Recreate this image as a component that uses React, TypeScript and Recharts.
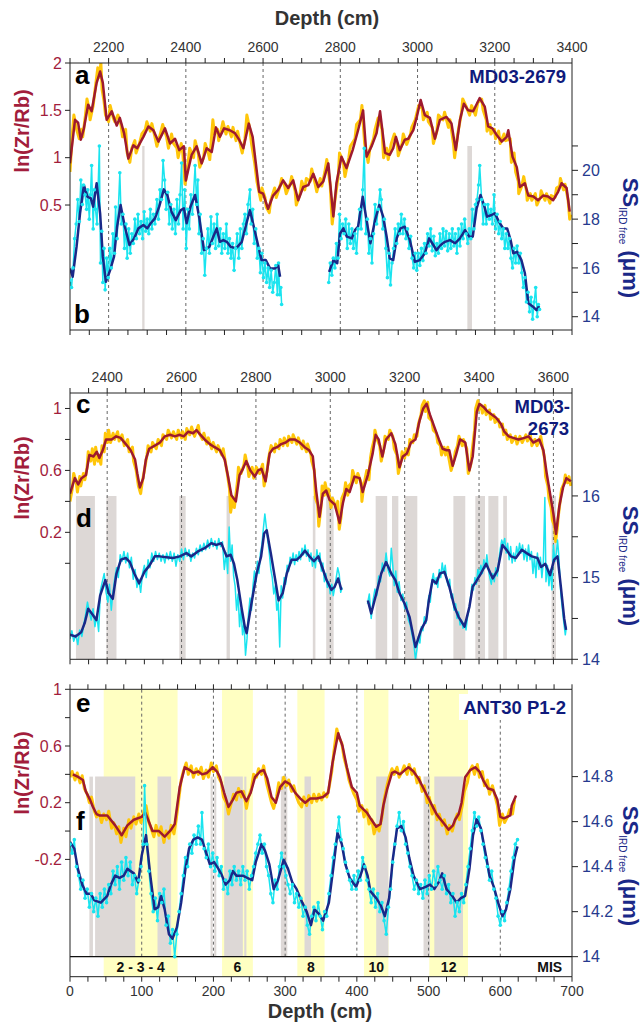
import React from 'react';
import { ComposedChart, Line, XAxis, YAxis, ReferenceArea, ReferenceLine } from 'recharts';

const FONT = '"Liberation Sans", Arial, Helvetica, sans-serif';
const RED = '#9e1a2e';
const YEL = '#ffc60a';
const CYAN = '#1ae4ef';
const NAVY = '#1a2888';
const GREY = '#ddd8d6';
const LYEL = '#ffffc2';
const TXT = '#333333';
const RLAB = '#a21d3c';
const BLAB = '#263a8e';
const AX = '#222222';

// ---------- ticks ----------
const abTicks = [2100,2150,2200,2250,2300,2350,2400,2450,2500,2550,2600,2650,2700,2750,2800,2850,2900,2950,3000,3050,3100,3150,3200,3250,3300,3350,3400];
const abLabels = [2200,2400,2600,2800,3000,3200,3400];
const cdTicks = [2300,2350,2400,2450,2500,2550,2600,2650,2700,2750,2800,2850,2900,2950,3000,3050,3100,3150,3200,3250,3300,3350,3400,3450,3500,3550,3600,3650];
const cdLabels = [2400,2600,2800,3000,3200,3400,3600];
const efTicks = [0,25,50,75,100,125,150,175,200,225,250,275,300,325,350,375,400,425,450,475,500,525,550,575,600,625,650,675,700];
const efLabels = [0,100,200,300,400,500,600,700];

const aLeftTicks = [0.5,1,1.5,2];
const bRightTicks = [14,15,16,17,18,19,20,21];
const bRightLabels = [14,16,18,20];
const cLeftTicks = [0,0.2,0.4,0.6,0.8,1];
const cLeftLabels = [1,0.6,0.2];
const dRightTicks = [14,14.5,15,15.5,16];
const dRightLabels = [14,15,16];
const eLeftTicks = [-0.2,0,0.2,0.4,0.6,0.8,1];
const eLeftLabels = [1,0.6,0.2,-0.2];
const fRightTicks = [14,14.2,14.4,14.6,14.8];

const abDotted = [2200,2400,2600,2800,3000,3200];
const cdDotted = [2400,2600,2800,3000,3200,3400,3600];
const efDotted = [100,200,300,400,500,600];

const abGrey = [[2287,2293],[3129,3141]];
const cdGrey = [[2316,2367],[2398,2425],[2594,2611],[2721,2730],[2953,2960],[2989,3009],[3122,3153],[3166,3183],[3200,3234],[3331,3363],[3390,3416],[3425,3452],[3465,3475],[3595,3607]];
const efGrey = [[27,32],[35,91],[122,141],[196,199],[201,204],[215,241],[243,246],[294,303],[327,336],[427,444],[493,502],[508,548]];
const misBands = [[47,150],[212,255],[317,355],[410,444],[501,555]];
const misNames = ['2 - 3 - 4','6','8','10','12'];

// ---------- Panel a: ln(Zr/Rb) MD03-2679 ----------
const aSmooth = [[2100,0.94],[2113,1.40],[2121,1.37],[2128,1.19],[2136,1.31],[2147,1.56],[2156,1.49],[2169,1.79],[2178,1.91],[2185,1.79],[2195,1.40],[2208,1.49],[2221,1.34],[2229,1.42],[2240,1.26],[2251,0.99],[2264,1.13],[2274,1.10],[2290,1.22],[2303,1.33],[2316,1.29],[2329,1.17],[2346,1.31],[2359,1.15],[2372,1.20],[2383,1.08],[2395,1.12],[2400,0.76],[2415,1.03],[2428,1.12],[2441,0.94],[2454,1.10],[2467,1.06],[2478,1.32],[2488,1.22],[2499,1.31],[2514,1.29],[2527,1.26],[2538,1.19],[2549,1.10],[2563,1.36],[2573,1.22],[2590,0.64],[2600,0.62],[2613,0.46],[2626,0.60],[2639,0.66],[2652,0.76],[2665,0.68],[2678,0.76],[2691,0.55],[2704,0.69],[2717,0.71],[2730,0.83],[2743,0.69],[2756,0.75],[2769,0.94],[2782,0.38],[2790,0.73],[2803,1.01],[2816,0.89],[2832,1.08],[2846,1.29],[2859,1.50],[2868,1.01],[2881,1.12],[2894,1.26],[2903,1.49],[2916,1.05],[2928,1.03],[2937,1.10],[2944,1.22],[2954,1.08],[2967,1.19],[2976,1.20],[2989,1.29],[2998,1.43],[3008,1.61],[3019,1.45],[3032,1.42],[3045,1.20],[3058,1.40],[3075,1.43],[3088,1.36],[3099,1.08],[3110,1.40],[3120,1.57],[3131,1.50],[3144,1.49],[3161,1.63],[3174,1.54],[3183,1.33],[3194,1.31],[3205,1.24],[3218,1.17],[3231,1.22],[3235,1.29],[3246,1.01],[3257,0.90],[3265,0.69],[3278,0.73],[3287,0.60],[3300,0.59],[3312,0.55],[3325,0.60],[3338,0.59],[3351,0.55],[3364,0.64],[3373,0.73],[3386,0.68],[3394,0.43]];
const aRaw = [[2100,0.85],[2106,1.25],[2110,1.45],[2117,1.30],[2124,1.20],[2130,1.30],[2133,1.22],[2140,1.45],[2144,1.62],[2150,1.50],[2152,1.40],[2160,1.55],[2165,1.72],[2172,1.95],[2176,1.85],[2180,2.0],[2183,1.72],[2188,1.60],[2192,1.45],[2200,1.38],[2204,1.55],[2212,1.42],[2216,1.38],[2224,1.45],[2232,1.35],[2236,1.22],[2244,1.30],[2248,1.05],[2255,0.95],[2260,1.10],[2268,1.18],[2271,1.05],[2280,1.15],[2286,1.25],[2295,1.30],[2299,1.38],[2308,1.28],[2312,1.36],[2320,1.22],[2325,1.12],[2334,1.25],[2340,1.35],[2350,1.22],[2355,1.10],[2363,1.25],[2368,1.15],[2377,1.10],[2380,1.00],[2388,1.15],[2392,1.05],[2398,0.72],[2404,0.88],[2410,1.10],[2420,1.00],[2424,1.18],[2432,1.05],[2436,0.90],[2446,1.00],[2450,1.15],[2458,1.05],[2462,0.98],[2470,1.40],[2474,1.25],[2482,1.30],[2485,1.18],[2492,1.30],[2496,1.38],[2504,1.25],[2509,1.33],[2518,1.22],[2522,1.32],[2530,1.18],[2534,1.28],[2542,1.12],[2546,1.05],[2553,1.20],[2558,1.45],[2566,1.30],[2570,1.15],[2578,0.95],[2584,0.75],[2594,0.55],[2597,0.68],[2605,0.58],[2608,0.48],[2616,0.42],[2620,0.55],[2630,0.68],[2634,0.58],[2644,0.70],[2648,0.78],[2656,0.70],[2660,0.62],[2670,0.72],[2674,0.80],[2683,0.65],[2686,0.50],[2696,0.62],[2700,0.75],[2708,0.66],[2712,0.78],[2722,0.75],[2726,0.88],[2735,0.72],[2739,0.64],[2748,0.78],[2752,0.70],[2760,0.85],[2765,0.98],[2774,0.70],[2779,0.30],[2786,0.55],[2795,0.82],[2798,1.05],[2808,0.95],[2812,0.80],[2822,1.00],[2826,1.12],[2838,1.20],[2842,1.35],[2852,1.40],[2856,1.55],[2863,1.15],[2872,0.95],[2876,1.08],[2886,1.20],[2890,1.30],[2898,1.42],[2908,1.30],[2912,1.00],[2920,1.10],[2924,0.98],[2932,1.15],[2940,1.25],[2948,1.12],[2950,1.02],[2960,1.15],[2963,1.25],[2972,1.14],[2982,1.25],[2985,1.32],[2994,1.40],[3003,1.55],[3012,1.52],[3015,1.40],[3025,1.48],[3028,1.38],[3038,1.32],[3041,1.15],[3050,1.28],[3054,1.45],[3066,1.40],[3070,1.48],[3080,1.32],[3084,1.40],[3093,1.15],[3096,1.00],[3104,1.25],[3114,1.48],[3117,1.62],[3125,1.55],[3135,1.45],[3140,1.55],[3150,1.45],[3156,1.58],[3166,1.62],[3170,1.50],[3178,1.40],[3180,1.28],[3188,1.35],[3190,1.25],[3199,1.30],[3202,1.20],[3210,1.28],[3214,1.15],[3224,1.25],[3228,1.18],[3240,1.20],[3243,0.95],[3250,1.05],[3254,0.85],[3261,0.75],[3262,0.62],[3270,0.70],[3275,0.80],[3282,0.65],[3284,0.55],[3292,0.62],[3296,0.55],[3305,0.62],[3309,0.50],[3318,0.58],[3320,0.65],[3330,0.55],[3334,0.62],[3343,0.52],[3346,0.60],[3356,0.58],[3360,0.68],[3368,0.70],[3370,0.78],[3378,0.66],[3382,0.72],[3390,0.55],[3394,0.35],[3397,0.40]];

// ---------- Panel b: SS MD03-2679 ----------
const bSmooth1 = [[2100,15.98],[2107,15.64],[2117,16.87],[2126,18.24],[2136,19.39],[2145,18.92],[2154,18.85],[2160,18.51],[2169,19.47],[2178,18.24],[2185,16.46],[2193,15.43],[2204,15.91],[2214,16.46],[2222,17.69],[2231,18.58],[2242,17.69],[2254,16.94],[2266,17.21],[2277,17.62],[2290,17.76],[2300,17.62],[2309,17.83],[2320,18.03],[2331,18.51],[2343,19.22],[2352,18.99],[2363,18.30],[2374,17.96],[2387,18.37],[2395,18.44],[2402,17.83],[2412,18.51],[2424,18.99],[2435,18.03],[2447,16.73],[2461,16.87],[2471,17.28],[2480,17.62],[2488,17.07],[2497,17.14],[2506,17.07],[2516,16.87],[2530,16.80],[2545,17.07],[2557,17.83],[2566,18.37],[2576,17.69],[2588,16.87],[2596,16.32],[2607,16.32],[2618,15.98],[2631,15.98],[2639,16.12],[2644,15.64]];
const bSmooth2 = [[2771,15.84],[2782,16.32],[2792,16.19],[2799,17.40],[2808,17.62],[2817,17.28],[2830,17.21],[2838,17.55],[2846,17.69],[2858,18.92],[2868,17.96],[2878,17.01],[2890,17.96],[2901,18.58],[2911,18.10],[2920,17.28],[2928,16.39],[2937,16.32],[2946,17.21],[2956,17.62],[2967,17.69],[2980,17.14],[2993,16.25],[3006,16.32],[3019,16.60],[3030,17.21],[3041,16.94],[3049,16.73],[3060,16.94],[3071,17.07],[3084,17.14],[3097,17.01],[3110,17.21],[3123,17.55],[3134,17.28],[3143,17.28],[3153,18.44],[3163,18.99],[3172,18.58],[3180,18.10],[3192,18.17],[3200,18.24],[3211,17.89],[3222,17.62],[3232,17.62],[3241,17.14],[3248,16.60],[3258,16.66],[3269,16.32],[3278,15.78],[3287,14.55],[3299,14.41],[3308,14.27],[3315,14.44]];
const bRaw1 = [[2100,15.5],[2104,15.2],[2108,16.0],[2112,17.2],[2116,17.8],[2120,18.8],[2124,17.9],[2128,19.6],[2132,18.6],[2135,19.4],[2139,19.0],[2143,18.4],[2146,19.2],[2150,18.0],[2153,19.0],[2156,20.2],[2160,17.6],[2163,19.2],[2166,18.4],[2170,17.8],[2176,21.0],[2179,16.2],[2182,17.5],[2185,15.4],[2188,16.8],[2191,15.1],[2195,16.4],[2199,15.6],[2203,16.8],[2207,16.0],[2211,17.4],[2215,16.6],[2218,18.5],[2222,17.2],[2229,19.9],[2233,17.8],[2237,18.2],[2241,16.8],[2245,17.8],[2248,16.4],[2252,17.6],[2256,16.6],[2260,17.4],[2264,17.0],[2268,18.0],[2272,17.2],[2276,18.2],[2280,17.4],[2284,17.9],[2288,17.2],[2292,18.3],[2296,17.5],[2300,18.0],[2304,17.4],[2308,18.4],[2312,17.6],[2316,18.2],[2320,17.8],[2325,18.8],[2329,18.0],[2333,19.2],[2337,18.8],[2341,20.4],[2345,19.6],[2349,18.4],[2353,19.1],[2357,17.8],[2361,18.6],[2365,17.6],[2369,18.4],[2373,17.4],[2377,18.8],[2381,17.8],[2385,19.0],[2389,20.3],[2393,17.6],[2397,19.2],[2401,16.8],[2405,18.4],[2409,17.6],[2413,19.0],[2417,18.2],[2424,20.2],[2428,18.6],[2431,19.6],[2434,17.4],[2437,18.2],[2441,16.6],[2445,17.2],[2449,15.7],[2453,16.8],[2457,17.6],[2461,16.6],[2465,18.1],[2469,17.0],[2473,17.8],[2477,16.8],[2481,18.2],[2485,16.9],[2489,17.6],[2493,16.6],[2497,17.4],[2501,16.8],[2505,17.8],[2509,16.6],[2513,17.2],[2517,16.4],[2521,17.0],[2525,15.9],[2529,16.8],[2533,17.4],[2537,16.4],[2541,17.6],[2545,16.8],[2549,17.8],[2553,18.2],[2557,17.4],[2561,18.6],[2566,19.2],[2569,17.8],[2573,18.4],[2577,17.0],[2581,17.6],[2585,16.4],[2589,16.8],[2593,15.8],[2597,16.6],[2601,15.6],[2605,16.2],[2609,15.4],[2613,16.0],[2617,15.2],[2621,15.9],[2625,15.0],[2629,15.4],[2633,16.1],[2637,14.9],[2640,16.2],[2643,14.9],[2646,15.2],[2648,14.5]];
const bRaw2 = [[2770,15.4],[2774,16.2],[2778,15.7],[2782,16.4],[2786,16.0],[2790,17.0],[2794,16.4],[2798,18.2],[2802,17.2],[2806,17.8],[2810,17.4],[2814,18.0],[2818,16.8],[2822,17.8],[2826,17.0],[2830,17.6],[2834,16.8],[2838,17.4],[2842,16.6],[2846,17.6],[2850,18.4],[2854,17.6],[2858,19.2],[2862,20.9],[2866,17.4],[2870,18.0],[2874,16.6],[2878,17.2],[2882,16.2],[2886,17.4],[2890,18.6],[2894,17.8],[2898,18.4],[2903,19.2],[2906,18.8],[2910,17.6],[2914,18.0],[2918,16.8],[2922,15.6],[2926,16.6],[2930,15.3],[2934,16.2],[2938,16.8],[2942,17.6],[2946,17.0],[2950,17.8],[2954,17.4],[2958,18.2],[2962,17.4],[2966,18.0],[2970,17.2],[2974,17.6],[2978,16.8],[2982,17.3],[2986,16.4],[2990,16.0],[2994,16.6],[2998,15.9],[3002,16.6],[3006,16.1],[3010,16.8],[3014,16.3],[3018,17.0],[3022,16.6],[3026,17.4],[3030,16.9],[3034,17.6],[3038,16.7],[3042,17.3],[3046,16.5],[3050,17.0],[3054,16.6],[3058,17.4],[3062,16.8],[3066,17.6],[3070,16.9],[3074,17.5],[3078,16.7],[3082,17.4],[3086,16.8],[3090,17.6],[3094,16.9],[3098,17.4],[3102,16.6],[3106,17.6],[3110,16.9],[3114,17.8],[3118,17.2],[3122,18.0],[3126,17.4],[3130,17.0],[3134,17.6],[3138,17.2],[3142,18.4],[3146,17.6],[3150,18.6],[3154,18.8],[3158,19.4],[3161,20.2],[3166,18.8],[3170,17.8],[3174,18.6],[3178,17.8],[3182,18.6],[3186,18.0],[3190,18.4],[3194,17.8],[3198,19.0],[3202,17.6],[3206,18.2],[3210,17.4],[3214,17.9],[3218,17.2],[3222,17.6],[3226,16.8],[3230,17.4],[3234,16.8],[3238,17.2],[3242,16.4],[3246,16.0],[3250,16.8],[3254,16.2],[3258,16.9],[3262,16.2],[3266,16.6],[3270,15.8],[3274,15.2],[3278,15.6],[3282,14.6],[3286,15.0],[3290,14.2],[3294,14.8],[3298,13.9],[3302,14.6],[3306,15.2],[3310,14.0],[3313,14.5],[3316,14.3]];

// ---------- Panel c: ln(Zr/Rb) MD03-2673 ----------
const cSmooth = [[2300,0.45],[2313,0.55],[2322,0.51],[2331,0.55],[2343,0.57],[2352,0.70],[2363,0.69],[2372,0.72],[2379,0.68],[2388,0.73],[2397,0.80],[2412,0.80],[2424,0.82],[2436,0.81],[2450,0.77],[2463,0.73],[2475,0.67],[2481,0.58],[2488,0.49],[2497,0.55],[2504,0.67],[2513,0.74],[2528,0.76],[2542,0.78],[2555,0.82],[2569,0.83],[2582,0.82],[2595,0.83],[2606,0.82],[2618,0.85],[2631,0.84],[2640,0.86],[2651,0.83],[2662,0.80],[2676,0.77],[2689,0.75],[2703,0.73],[2716,0.67],[2725,0.56],[2734,0.44],[2746,0.40],[2756,0.57],[2765,0.61],[2774,0.66],[2785,0.60],[2797,0.56],[2806,0.60],[2815,0.61],[2826,0.53],[2837,0.71],[2846,0.74],[2857,0.75],[2868,0.77],[2880,0.78],[2891,0.80],[2904,0.80],[2918,0.78],[2931,0.75],[2943,0.73],[2953,0.69],[2962,0.47],[2971,0.30],[2980,0.45],[2989,0.47],[2998,0.41],[3012,0.38],[3025,0.26],[3034,0.39],[3043,0.48],[3052,0.46],[3065,0.56],[3079,0.55],[3087,0.46],[3101,0.57],[3114,0.71],[3122,0.83],[3130,0.80],[3140,0.69],[3150,0.80],[3164,0.84],[3175,0.77],[3186,0.62],[3195,0.69],[3206,0.71],[3217,0.78],[3229,0.80],[3240,0.92],[3250,1.00],[3259,1.03],[3268,0.96],[3280,0.88],[3292,0.80],[3302,0.74],[3313,0.73],[3320,0.73],[3329,0.63],[3338,0.70],[3349,0.80],[3363,0.78],[3374,0.60],[3383,0.69],[3394,0.98],[3401,1.03],[3412,1.01],[3423,0.98],[3435,0.96],[3446,0.94],[3459,0.90],[3468,0.85],[3480,0.82],[3492,0.81],[3506,0.80],[3522,0.81],[3533,0.82],[3546,0.78],[3562,0.80],[3573,0.73],[3582,0.58],[3591,0.45],[3600,0.32],[3607,0.19],[3616,0.37],[3626,0.49],[3635,0.55],[3647,0.53]];
const cRaw = [[2300,0.40],[2306,0.48],[2310,0.58],[2317,0.52],[2320,0.46],[2326,0.56],[2329,0.50],[2336,0.58],[2340,0.54],[2346,0.62],[2349,0.72],[2356,0.66],[2360,0.74],[2366,0.64],[2369,0.75],[2375,0.66],[2377,0.70],[2383,0.64],[2386,0.76],[2392,0.72],[2395,0.84],[2401,0.78],[2404,0.86],[2409,0.78],[2416,0.84],[2420,0.80],[2428,0.85],[2432,0.79],[2440,0.83],[2446,0.76],[2455,0.80],[2459,0.72],[2468,0.75],[2471,0.66],[2478,0.60],[2484,0.50],[2490,0.45],[2494,0.52],[2500,0.60],[2507,0.70],[2510,0.76],[2518,0.72],[2522,0.78],[2532,0.74],[2537,0.80],[2546,0.76],[2550,0.83],[2560,0.80],[2564,0.86],[2573,0.81],[2578,0.85],[2587,0.80],[2591,0.86],[2600,0.81],[2603,0.85],[2610,0.80],[2614,0.87],[2622,0.83],[2627,0.88],[2635,0.82],[2645,0.89],[2648,0.84],[2656,0.80],[2660,0.84],[2668,0.77],[2672,0.81],[2681,0.74],[2685,0.78],[2694,0.72],[2698,0.76],[2708,0.70],[2712,0.74],[2720,0.62],[2723,0.58],[2729,0.48],[2732,0.33],[2738,0.42],[2742,0.36],[2750,0.52],[2753,0.62],[2760,0.58],[2768,0.64],[2771,0.70],[2778,0.62],[2781,0.56],[2790,0.62],[2794,0.55],[2801,0.62],[2810,0.58],[2818,0.64],[2822,0.50],[2830,0.60],[2834,0.68],[2841,0.76],[2850,0.72],[2853,0.77],[2862,0.74],[2865,0.80],[2873,0.76],[2876,0.81],[2885,0.76],[2888,0.82],[2897,0.78],[2900,0.83],[2910,0.77],[2914,0.81],[2924,0.74],[2927,0.79],[2936,0.72],[2939,0.77],[2948,0.70],[2950,0.66],[2957,0.60],[2960,0.42],[2966,0.38],[2969,0.24],[2975,0.36],[2978,0.50],[2984,0.44],[2986,0.52],[2993,0.44],[2995,0.48],[3002,0.36],[3006,0.42],[3017,0.35],[3020,0.40],[3024,0.22],[3029,0.30],[3031,0.42],[3038,0.46],[3041,0.52],[3047,0.44],[3050,0.50],[3057,0.52],[3060,0.60],[3070,0.52],[3074,0.58],[3083,0.52],[3085,0.40],[3090,0.50],[3094,0.55],[3098,0.60],[3104,0.54],[3108,0.68],[3112,0.74],[3118,0.80],[3120,0.86],[3126,0.80],[3133,0.76],[3137,0.66],[3144,0.74],[3147,0.82],[3156,0.80],[3160,0.86],[3168,0.82],[3172,0.74],[3179,0.70],[3183,0.58],[3190,0.66],[3193,0.72],[3200,0.68],[3204,0.74],[3210,0.70],[3214,0.80],[3222,0.78],[3226,0.83],[3233,0.82],[3237,0.90],[3244,0.96],[3247,1.02],[3253,1.05],[3256,0.98],[3262,1.04],[3265,0.94],[3273,0.92],[3277,0.86],[3285,0.84],[3289,0.78],[3296,0.76],[3299,0.70],[3306,0.75],[3310,0.70],[3316,0.75],[3318,0.69],[3325,0.60],[3332,0.66],[3336,0.72],[3342,0.76],[3346,0.82],[3355,0.76],[3358,0.80],[3367,0.74],[3371,0.58],[3378,0.64],[3381,0.72],[3388,0.86],[3391,1.00],[3397,1.05],[3399,0.99],[3406,1.02],[3409,0.97],[3416,1.02],[3419,0.96],[3428,0.99],[3431,0.93],[3440,0.96],[3443,0.91],[3452,0.93],[3456,0.88],[3463,0.90],[3466,0.83],[3472,0.86],[3476,0.80],[3484,0.83],[3488,0.78],[3498,0.82],[3502,0.77],[3510,0.82],[3516,0.78],[3526,0.83],[3530,0.79],[3538,0.83],[3542,0.76],[3550,0.80],[3556,0.76],[3566,0.82],[3570,0.76],[3576,0.68],[3579,0.56],[3585,0.50],[3588,0.42],[3594,0.36],[3597,0.28],[3603,0.24],[3606,0.14],[3610,0.22],[3613,0.30],[3619,0.42],[3622,0.48],[3629,0.52],[3632,0.57],[3638,0.52],[3642,0.56],[3647,0.50]];

// ---------- Panel d: SS MD03-2673 ----------
const dSmooth1 = [[2300,14.30],[2315,14.28],[2330,14.33],[2340,14.45],[2349,14.62],[2362,14.54],[2371,14.48],[2381,14.78],[2395,14.97],[2404,14.81],[2415,14.74],[2425,15.05],[2437,15.22],[2450,15.24],[2461,15.19],[2473,15.05],[2486,14.93],[2500,15.07],[2514,15.15],[2528,15.26],[2541,15.26],[2559,15.25],[2577,15.24],[2595,15.26],[2613,15.30],[2626,15.26],[2644,15.32],[2662,15.36],[2680,15.42],[2694,15.40],[2707,15.42],[2721,15.26],[2732,15.28],[2741,15.17],[2750,14.97],[2761,14.64],[2770,14.40],[2775,14.32],[2789,14.71],[2802,15.05],[2814,15.26],[2822,15.54],[2829,15.58],[2840,15.30],[2852,14.97],[2861,14.72],[2872,14.81],[2883,15.05],[2896,15.22],[2910,15.22],[2920,15.26],[2932,15.33],[2944,15.26],[2956,15.20],[2968,15.26],[2981,15.09],[2990,14.97],[3003,14.85],[3012,14.89],[3021,14.99],[3030,14.85]];
const dSmooth2 = [[3101,14.72],[3110,14.56],[3124,14.81],[3137,15.05],[3150,15.19],[3164,15.05],[3175,14.97],[3186,14.81],[3200,14.68],[3213,14.52],[3229,14.15],[3244,14.36],[3258,14.48],[3265,14.72],[3275,14.97],[3285,14.93],[3295,15.05],[3307,15.07],[3320,14.89],[3334,14.64],[3345,14.52],[3361,14.40],[3374,14.64],[3383,14.89],[3392,14.95],[3405,15.05],[3419,15.17],[3437,14.99],[3450,15.09],[3463,15.40],[3474,15.34],[3486,15.26],[3499,15.24],[3515,15.34],[3528,15.30],[3542,15.26],[3557,15.24],[3567,15.13],[3578,15.17],[3591,15.03],[3602,15.22],[3611,15.26],[3620,14.89],[3629,14.50],[3634,14.36]];
const dRaw1 = [[2300,14.25],[2305,14.35],[2310,14.22],[2316,14.30],[2321,14.18],[2326,14.36],[2332,14.28],[2337,14.42],[2342,14.55],[2347,14.70],[2352,14.58],[2357,14.48],[2362,14.62],[2367,14.40],[2372,14.55],[2377,14.34],[2382,14.85],[2387,14.95],[2392,15.05],[2397,14.82],[2402,14.70],[2406,14.92],[2411,14.60],[2415,14.80],[2420,14.98],[2425,15.12],[2430,15.00],[2435,15.28],[2440,15.20],[2445,15.32],[2450,15.18],[2455,15.30],[2460,15.12],[2465,15.25],[2470,14.98],[2475,15.10],[2480,14.88],[2485,14.98],[2490,14.82],[2495,15.05],[2500,15.15],[2505,15.00],[2510,15.22],[2515,15.12],[2520,15.30],[2525,15.20],[2530,15.32],[2535,15.22],[2540,15.30],[2545,15.20],[2550,15.28],[2555,15.18],[2560,15.30],[2565,15.22],[2570,15.32],[2575,15.20],[2580,15.30],[2585,15.14],[2590,15.28],[2595,15.20],[2600,15.35],[2605,15.22],[2610,15.36],[2615,15.26],[2620,15.34],[2625,15.20],[2630,15.30],[2635,15.24],[2640,15.36],[2645,15.28],[2650,15.40],[2655,15.32],[2660,15.42],[2665,15.34],[2670,15.46],[2675,15.36],[2680,15.48],[2685,15.38],[2690,15.45],[2695,15.35],[2700,15.48],[2705,15.38],[2710,15.44],[2715,15.10],[2720,15.30],[2724,15.05],[2728,15.62],[2732,15.20],[2736,15.40],[2740,15.02],[2744,14.90],[2748,14.60],[2752,14.80],[2756,14.40],[2760,14.62],[2764,14.30],[2768,14.45],[2772,14.05],[2776,14.25],[2780,14.55],[2784,14.75],[2788,14.60],[2792,14.90],[2796,15.08],[2800,14.95],[2804,15.20],[2808,15.05],[2812,15.30],[2816,15.40],[2820,15.60],[2824,15.78],[2828,15.62],[2832,15.45],[2836,15.30],[2840,15.10],[2844,15.00],[2848,14.80],[2852,14.90],[2856,14.60],[2860,14.70],[2864,14.15],[2868,14.90],[2872,14.75],[2876,15.00],[2880,14.92],[2884,15.15],[2888,15.08],[2892,15.25],[2896,15.18],[2900,15.30],[2904,15.16],[2908,15.28],[2912,15.20],[2916,15.32],[2920,15.22],[2924,15.36],[2928,15.28],[2932,15.40],[2936,15.26],[2940,15.34],[2944,15.20],[2948,15.30],[2952,15.14],[2956,15.26],[2960,15.12],[2964,15.34],[2968,15.20],[2972,15.30],[2976,15.08],[2980,15.18],[2984,14.95],[2988,15.05],[2992,14.88],[2996,14.95],[3000,14.80],[3004,14.92],[3008,14.78],[3012,14.88],[3016,15.00],[3020,15.12],[3024,15.04],[3028,14.82],[3032,14.88]];
const dRaw2 = [[3100,14.68],[3105,14.80],[3110,14.50],[3115,14.72],[3120,14.86],[3125,14.78],[3130,15.02],[3135,14.95],[3140,15.18],[3145,15.08],[3150,15.30],[3155,15.10],[3160,15.02],[3164,15.36],[3168,15.15],[3172,14.90],[3176,15.08],[3180,14.82],[3185,14.95],[3190,14.72],[3195,14.80],[3200,14.62],[3205,14.70],[3210,14.48],[3215,14.42],[3220,14.30],[3225,14.18],[3229,14.00],[3233,14.12],[3237,14.28],[3241,14.20],[3245,14.40],[3249,14.35],[3253,14.52],[3257,14.44],[3261,14.60],[3265,14.78],[3269,14.70],[3273,14.95],[3277,15.05],[3281,14.92],[3285,15.00],[3289,14.88],[3293,15.10],[3297,15.00],[3301,15.18],[3305,15.05],[3309,15.15],[3313,14.98],[3317,14.90],[3321,14.98],[3325,14.75],[3329,14.80],[3333,14.60],[3337,14.68],[3341,14.50],[3345,14.58],[3349,14.42],[3353,14.48],[3357,14.38],[3361,14.45],[3365,14.36],[3369,14.52],[3373,14.60],[3377,14.75],[3381,14.92],[3385,14.85],[3389,15.00],[3393,14.92],[3397,15.10],[3401,15.02],[3405,15.15],[3409,15.05],[3413,15.22],[3417,15.12],[3421,15.28],[3425,15.10],[3429,15.00],[3433,14.92],[3437,15.05],[3441,14.95],[3445,15.12],[3449,15.02],[3453,15.20],[3457,15.35],[3461,15.46],[3465,15.40],[3469,15.48],[3473,15.30],[3477,15.42],[3481,15.22],[3485,15.38],[3489,15.18],[3493,15.30],[3497,15.20],[3501,15.38],[3505,15.28],[3509,15.42],[3513,15.30],[3517,15.40],[3521,15.22],[3525,15.35],[3529,15.20],[3533,15.40],[3537,15.22],[3541,15.32],[3545,15.05],[3549,15.25],[3553,15.00],[3557,15.30],[3561,15.10],[3565,15.25],[3569,15.00],[3573,15.20],[3577,15.98],[3580,14.95],[3584,15.15],[3588,14.90],[3592,15.10],[3596,14.85],[3600,15.40],[3604,15.20],[3608,15.30],[3611,15.46],[3614,15.30],[3617,15.05],[3620,14.80],[3624,14.62],[3628,14.45],[3632,14.30],[3635,14.40]];

// ---------- Panel e: ln(Zr/Rb) ANT30 P1-2 ----------
const eSmooth = [[4,0.40],[12,0.38],[18,0.36],[22,0.28],[28,0.22],[32,0.17],[37,0.12],[41,0.11],[52,0.11],[63,0.04],[72,-0.03],[80,0.04],[89,0.08],[100,0.10],[105,0.13],[109,0.08],[115,0.00],[124,0.00],[132,-0.04],[141,0.01],[146,0.05],[153,0.31],[160,0.45],[167,0.43],[172,0.41],[179,0.42],[184,0.40],[191,0.41],[199,0.45],[205,0.42],[209,0.38],[215,0.27],[221,0.17],[227,0.22],[232,0.27],[239,0.28],[246,0.21],[252,0.27],[258,0.38],[265,0.42],[270,0.43],[275,0.37],[281,0.24],[287,0.20],[293,0.31],[300,0.35],[307,0.33],[314,0.27],[321,0.23],[328,0.20],[335,0.23],[344,0.23],[353,0.24],[360,0.27],[366,0.48],[374,0.69],[380,0.60],[386,0.45],[393,0.31],[400,0.27],[404,0.18],[410,0.15],[414,0.13],[419,0.09],[427,0.03],[433,0.05],[437,0.18],[442,0.29],[449,0.41],[453,0.42],[460,0.40],[467,0.43],[472,0.45],[479,0.42],[486,0.37],[493,0.30],[500,0.23],[507,0.16],[511,0.12],[514,0.10],[522,0.05],[528,0.01],[534,0.04],[537,0.08],[542,0.12],[546,0.20],[551,0.38],[558,0.43],[565,0.45],[571,0.42],[576,0.36],[583,0.30],[590,0.29],[596,0.22],[600,0.10],[605,0.09],[614,0.11],[616,0.18],[622,0.25]];
const eRaw = [[0,0.38],[3,0.42],[7,0.36],[10,0.41],[14,0.34],[17,0.39],[20,0.30],[24,0.26],[27,0.20],[30,0.24],[34,0.14],[37,0.10],[40,0.14],[44,0.06],[47,0.12],[51,0.08],[54,0.14],[58,0.02],[61,0.06],[65,-0.02],[68,0.03],[71,-0.08],[75,0.02],[78,-0.04],[82,0.08],[85,0.02],[89,0.10],[92,0.05],[96,0.12],[99,0.06],[103,0.14],[106,0.18],[110,0.06],[113,0.02],[117,-0.04],[120,0.04],[124,-0.03],[127,0.03],[131,-0.08],[134,0.00],[138,-0.05],[141,0.04],[145,-0.02],[148,0.08],[151,0.20],[155,0.36],[158,0.42],[162,0.48],[165,0.40],[169,0.46],[172,0.38],[176,0.44],[179,0.40],[183,0.45],[186,0.37],[190,0.43],[193,0.38],[197,0.48],[200,0.42],[204,0.46],[207,0.38],[211,0.34],[214,0.24],[218,0.20],[221,0.12],[225,0.20],[228,0.26],[232,0.22],[235,0.30],[239,0.24],[242,0.28],[246,0.16],[249,0.24],[253,0.30],[256,0.40],[260,0.38],[263,0.44],[267,0.40],[270,0.46],[274,0.34],[277,0.28],[281,0.20],[284,0.16],[288,0.24],[291,0.34],[295,0.30],[298,0.38],[302,0.32],[305,0.36],[309,0.28],[312,0.32],[316,0.24],[319,0.20],[323,0.17],[326,0.24],[330,0.18],[333,0.25],[337,0.20],[340,0.26],[344,0.21],[347,0.26],[351,0.22],[354,0.27],[358,0.24],[361,0.30],[365,0.42],[368,0.56],[372,0.72],[375,0.66],[379,0.62],[382,0.52],[386,0.44],[389,0.36],[393,0.30],[396,0.26],[400,0.22],[403,0.14],[407,0.18],[410,0.10],[414,0.15],[417,0.05],[421,0.08],[424,-0.02],[428,0.04],[431,0.00],[435,0.10],[438,0.22],[442,0.32],[445,0.38],[449,0.44],[452,0.40],[456,0.45],[459,0.38],[463,0.42],[466,0.46],[470,0.40],[473,0.47],[477,0.40],[480,0.44],[484,0.34],[487,0.38],[491,0.28],[494,0.32],[498,0.20],[501,0.24],[505,0.12],[508,0.18],[512,0.08],[515,0.12],[519,0.04],[522,0.08],[526,-0.02],[529,0.04],[533,0.00],[536,0.06],[540,0.12],[543,0.08],[547,0.18],[550,0.28],[554,0.34],[557,0.42],[561,0.46],[564,0.40],[568,0.47],[571,0.38],[575,0.42],[578,0.32],[582,0.36],[585,0.26],[589,0.32],[592,0.26],[596,0.18],[599,0.04],[603,0.12],[606,0.06],[610,0.10],[613,0.15],[617,0.12],[620,0.22]];

// ---------- Panel f: SS ANT30 P1-2 ----------
const fSmooth = [[0,14.51],[6,14.48],[11,14.39],[17,14.32],[23,14.28],[29,14.28],[34,14.25],[43,14.24],[52,14.27],[57,14.32],[63,14.36],[69,14.35],[75,14.36],[80,14.39],[89,14.37],[95,14.33],[100,14.45],[106,14.54],[112,14.36],[118,14.21],[123,14.22],[127,14.27],[132,14.21],[138,14.10],[143,14.08],[149,14.13],[155,14.24],[161,14.39],[166,14.48],[172,14.52],[178,14.53],[184,14.52],[189,14.47],[195,14.41],[201,14.42],[207,14.39],[212,14.36],[217,14.32],[223,14.34],[227,14.38],[232,14.36],[241,14.36],[247,14.35],[254,14.34],[259,14.42],[267,14.50],[272,14.47],[278,14.41],[284,14.30],[290,14.34],[298,14.43],[304,14.39],[310,14.33],[316,14.30],[324,14.24],[330,14.20],[336,14.14],[341,14.21],[347,14.19],[353,14.16],[361,14.24],[367,14.39],[373,14.55],[379,14.50],[384,14.41],[390,14.35],[399,14.31],[405,14.36],[410,14.41],[415,14.36],[419,14.29],[427,14.26],[433,14.23],[439,14.18],[445,14.26],[450,14.43],[456,14.57],[462,14.58],[468,14.53],[473,14.44],[479,14.36],[488,14.30],[496,14.31],[502,14.32],[508,14.30],[514,14.33],[519,14.37],[525,14.30],[533,14.27],[539,14.24],[545,14.26],[551,14.27],[557,14.39],[562,14.54],[567,14.61],[573,14.57],[580,14.45],[585,14.36],[591,14.31],[597,14.24],[603,14.18],[608,14.21],[614,14.30],[620,14.44],[624,14.49]];
const fRaw = [[0,14.50],[3,14.46],[6,14.52],[9,14.40],[12,14.36],[15,14.30],[18,14.34],[21,14.26],[24,14.30],[27,14.22],[30,14.28],[33,14.20],[36,14.26],[39,14.18],[42,14.28],[45,14.22],[48,14.30],[51,14.24],[54,14.32],[57,14.28],[60,14.38],[63,14.32],[66,14.40],[69,14.30],[72,14.42],[75,14.34],[78,14.44],[81,14.36],[84,14.42],[87,14.32],[90,14.36],[93,14.28],[96,14.34],[99,14.40],[102,14.50],[104,14.76],[107,14.50],[110,14.38],[113,14.28],[116,14.20],[119,14.26],[122,14.16],[125,14.28],[128,14.24],[131,14.30],[134,14.14],[137,14.18],[140,14.06],[143,14.12],[146,14.00],[149,14.10],[152,14.20],[155,14.28],[158,14.36],[161,14.44],[164,14.40],[167,14.50],[170,14.46],[173,14.54],[176,14.50],[179,14.58],[182,14.50],[184,14.64],[187,14.48],[190,14.44],[193,14.50],[196,14.40],[199,14.46],[202,14.38],[205,14.44],[208,14.36],[211,14.40],[214,14.30],[217,14.34],[220,14.28],[223,14.38],[226,14.32],[229,14.40],[232,14.34],[235,14.38],[238,14.32],[241,14.40],[244,14.34],[247,14.38],[250,14.30],[253,14.36],[256,14.40],[259,14.46],[262,14.50],[265,14.54],[268,14.46],[271,14.50],[274,14.40],[277,14.36],[280,14.28],[283,14.24],[286,14.34],[289,14.30],[292,14.40],[295,14.46],[298,14.40],[301,14.36],[304,14.32],[307,14.28],[310,14.32],[313,14.24],[316,14.28],[319,14.22],[322,14.26],[325,14.18],[328,14.22],[331,14.14],[334,14.10],[337,14.18],[340,14.22],[343,14.16],[346,14.24],[349,14.18],[352,14.12],[355,14.20],[358,14.18],[361,14.28],[364,14.36],[367,14.44],[370,14.50],[373,14.56],[375,14.62],[378,14.52],[381,14.48],[384,14.42],[387,14.38],[390,14.34],[393,14.30],[396,14.36],[399,14.30],[402,14.38],[405,14.34],[408,14.44],[411,14.40],[414,14.34],[417,14.30],[420,14.24],[423,14.30],[426,14.22],[429,14.28],[432,14.20],[435,14.24],[438,14.16],[441,14.10],[444,14.22],[447,14.30],[450,14.42],[453,14.50],[456,14.58],[459,14.64],[462,14.56],[465,14.60],[468,14.50],[471,14.46],[474,14.40],[477,14.36],[480,14.30],[483,14.34],[486,14.28],[489,14.32],[492,14.26],[495,14.34],[498,14.28],[501,14.36],[504,14.30],[507,14.38],[510,14.32],[513,14.40],[516,14.34],[519,14.30],[522,14.36],[525,14.28],[528,14.32],[531,14.24],[534,14.28],[537,14.18],[540,14.24],[543,14.20],[546,14.28],[549,14.24],[552,14.32],[555,14.40],[558,14.48],[561,14.56],[564,14.64],[567,14.58],[570,14.62],[573,14.56],[576,14.50],[579,14.44],[582,14.40],[585,14.34],[588,14.38],[591,14.30],[594,14.26],[597,14.18],[600,14.14],[603,14.20],[606,14.16],[609,14.24],[612,14.30],[615,14.38],[618,14.44],[621,14.50],[624,14.52]];

// ---------- helpers ----------
const pts = (a: number[][]) => a.map(([d, v]) => ({ d, v }));
const near = (list: number[], v: number) => list.some((x) => Math.abs(x - v) < 1e-6);

const mkLine = (key: string, data: number[][], color: string, width: number, yId: string, dots = false, xId = 't') => (
  <Line
    key={key}
    xAxisId={xId}
    yAxisId={yId}
    data={pts(data)}
    dataKey="v"
    type="linear"
    stroke={color}
    strokeWidth={width}
    strokeLinejoin="round"
    dot={dots ? { r: 1.8, fill: color, stroke: 'none' } : false}
    activeDot={false}
    isAnimationActive={false}
  />
);

// invisible helper line so that the tick-only axis gets registered
const ghost = (key: string, data: number[][], xId: string) => (
  <Line key={key} xAxisId={xId} yAxisId="L" data={pts(data)} dataKey="v" stroke="none" strokeWidth={0}
    dot={false} activeDot={false} isAnimationActive={false} legendType="none" />
);

const greyAreas = (list: number[][], y1: number, y2: number, pre: string) =>
  list.map(([a, b], i) => (
    <ReferenceArea key={pre + i} xAxisId="t" yAxisId="R" x1={a} x2={b} y1={y1} y2={y2} fill={GREY} fillOpacity={1} stroke="none" />
  ));

const dottedLines = (list: number[], pre: string) =>
  list.map((x, i) => (
    <ReferenceLine key={pre + i} xAxisId="t" yAxisId="L" x={x} stroke="#666" strokeWidth={1} strokeDasharray="3 3" />
  ));

function PanelAB() {
  return (
    <div style={{ position: 'absolute', left: 0, top: 0 }}>
      <ComposedChart width={644} height={345} margin={{ top: 33, right: 32, bottom: 5, left: 30 }}>
        <XAxis xAxisId="t" orientation="top" type="number" dataKey="d" domain={[2100, 3400]} ticks={abTicks} interval={0}
          tickFormatter={(v) => (near(abLabels, v) ? String(v) : '')} height={30} tickSize={5} tickMargin={6}
          stroke={AX} tick={{ fill: TXT, fontSize: 14, fontFamily: FONT }} allowDataOverflow />
        <XAxis xAxisId="b" orientation="bottom" type="number" dataKey="d" domain={[2100, 3400]} ticks={abTicks} interval={0}
          tickFormatter={() => ''} height={10} tickSize={5} stroke={AX} allowDataOverflow />
        <YAxis yAxisId="L" orientation="left" type="number" domain={[-0.82, 2]} ticks={aLeftTicks} interval={0} width={40}
          tickSize={5} tickMargin={3} stroke={AX} tick={{ fill: RLAB, fontSize: 16, fontFamily: FONT }} allowDataOverflow />
        <YAxis yAxisId="R" orientation="right" type="number" domain={[13.455, 24.4]} ticks={bRightTicks} interval={0} width={40}
          tickFormatter={(v) => (near(bRightLabels, v) ? String(v) : '')} tickSize={6} tickMargin={4} stroke={AX}
          tick={{ fill: BLAB, fontSize: 16, fontFamily: FONT }} allowDataOverflow />
        {greyAreas(abGrey, 13.455, 21, 'ag')}
        {dottedLines(abDotted, 'ad')}
        {ghost('ag0', aSmooth, 'b')}
        {mkLine('araw', aRaw, YEL, 3, 'L')}
        {mkLine('asm', aSmooth, RED, 2.5, 'L')}
        {mkLine('braw1', bRaw1, CYAN, 1.5, 'R', true)}
        {mkLine('braw2', bRaw2, CYAN, 1.5, 'R', true)}
        {mkLine('bsm1', bSmooth1, NAVY, 2.5, 'R')}
        {mkLine('bsm2', bSmooth2, NAVY, 2.5, 'R')}
      </ComposedChart>
    </div>
  );
}

function PanelCD() {
  return (
    <div style={{ position: 'absolute', left: 0, top: 350 }}>
      <ComposedChart width={644} height={320} margin={{ top: 13, right: 32, bottom: 2.7, left: 30 }}>
        <XAxis xAxisId="t" orientation="top" type="number" dataKey="d" domain={[2300, 3650]} ticks={cdTicks} interval={0}
          tickFormatter={(v) => (near(cdLabels, v) ? String(v) : '')} height={30} tickSize={5} tickMargin={6}
          stroke={AX} tick={{ fill: TXT, fontSize: 14, fontFamily: FONT }} allowDataOverflow />
        <XAxis xAxisId="b" orientation="bottom" type="number" dataKey="d" domain={[2300, 3650]} ticks={cdTicks} interval={0}
          tickFormatter={() => ''} height={8} tickSize={5} stroke={AX} allowDataOverflow />
        <YAxis yAxisId="L" orientation="left" type="number" domain={[-0.62, 1.1]} ticks={cLeftTicks} interval={0} width={40}
          tickFormatter={(v) => (near(cLeftLabels, v) ? String(v) : '')} tickSize={5} tickMargin={3} stroke={AX}
          tick={{ fill: RLAB, fontSize: 16, fontFamily: FONT }} allowDataOverflow />
        <YAxis yAxisId="R" orientation="right" type="number" domain={[14, 17.26]} ticks={dRightTicks} interval={0} width={40}
          tickFormatter={(v) => (near(dRightLabels, v) ? String(v) : '')} tickSize={6} tickMargin={4} stroke={AX}
          tick={{ fill: BLAB, fontSize: 16, fontFamily: FONT }} allowDataOverflow />
        {greyAreas(cdGrey, 14, 16, 'cg')}
        {dottedLines(cdDotted, 'cd')}
        {ghost('cg0', cSmooth, 'b')}
        {mkLine('craw', cRaw, YEL, 3, 'L')}
        {mkLine('csm', cSmooth, RED, 2.5, 'L')}
        {mkLine('draw1', dRaw1, CYAN, 1.5, 'R')}
        {mkLine('draw2', dRaw2, CYAN, 1.5, 'R')}
        {mkLine('dsm1', dSmooth1, NAVY, 2.5, 'R')}
        {mkLine('dsm2', dSmooth2, NAVY, 2.5, 'R')}
      </ComposedChart>
    </div>
  );
}

const EF_R_MIN = 13.911;
const EF_R_MAX = 15.188;

function PanelEF() {
  return (
    <div style={{ position: 'absolute', left: 0, top: 670 }}>
      <ComposedChart width={644} height={355} margin={{ top: 9.3, right: 32, bottom: 18.3, left: 30 }}>
        <XAxis xAxisId="top" orientation="top" type="number" dataKey="d" domain={[0, 700]} ticks={efTicks} interval={0}
          tickFormatter={() => ''} height={10} tickSize={5} stroke={AX} allowDataOverflow />
        <XAxis xAxisId="t" orientation="bottom" type="number" dataKey="d" domain={[0, 700]} ticks={efTicks} interval={0}
          tickFormatter={(v) => (near(efLabels, v) ? String(v) : '')} height={30} tickSize={5} tickMargin={4}
          stroke={AX} tick={{ fill: TXT, fontSize: 14, fontFamily: FONT }} allowDataOverflow />
        <YAxis yAxisId="L" orientation="left" type="number" domain={[-1.0275, 1]} ticks={eLeftTicks} interval={0} width={40}
          tickFormatter={(v) => (near(eLeftLabels, v) ? String(v) : '')} tickSize={5} tickMargin={3} stroke={AX}
          tick={{ fill: RLAB, fontSize: 16, fontFamily: FONT }} allowDataOverflow />
        <YAxis yAxisId="R" orientation="right" type="number" domain={[EF_R_MIN, EF_R_MAX]} ticks={fRightTicks} interval={0} width={40}
          tickSize={6} tickMargin={4} stroke={AX} tick={{ fill: BLAB, fontSize: 16, fontFamily: FONT }} allowDataOverflow />
        {misBands.map(([a, b], i) => (
          <ReferenceArea key={'ym' + i} xAxisId="t" yAxisId="R" x1={a} x2={b} y1={14} y2={EF_R_MAX} fill={LYEL} fillOpacity={1} stroke="none" />
        ))}
        {misBands.map(([a, b], i) => (
          <ReferenceArea key={'ys' + i} xAxisId="t" yAxisId="R" x1={a} x2={b} y1={EF_R_MIN} y2={14} fill={LYEL} fillOpacity={1} stroke="none"
            label={{ value: misNames[i], position: 'center', fill: '#111', fontSize: 14, fontWeight: 'bold', fontFamily: FONT }} />
        ))}
        <ReferenceArea xAxisId="t" yAxisId="R" x1={648} x2={690} y1={EF_R_MIN} y2={14} fill="#fff" fillOpacity={0} stroke="none"
          label={{ value: 'MIS', position: 'center', fill: '#111', fontSize: 14, fontWeight: 'bold', fontFamily: FONT }} />
        {greyAreas(efGrey, 14, 14.8, 'eg')}
        {efDotted.map((x, i) => (
          <ReferenceLine key={'ed' + i} xAxisId="t" yAxisId="R" segment={[{ x, y: 14 }, { x, y: EF_R_MAX }]} stroke="#666" strokeWidth={1} strokeDasharray="3 3" />
        ))}
        <ReferenceLine xAxisId="t" yAxisId="R" y={14} stroke="#111" strokeWidth={1.2} />
        {ghost('eg0', eSmooth, 'top')}
        {mkLine('eraw', eRaw, YEL, 3, 'L')}
        {mkLine('esm', eSmooth, RED, 2.5, 'L')}
        {mkLine('fraw', fRaw, CYAN, 1.5, 'R', true)}
        {mkLine('fsm', fSmooth, NAVY, 2.5, 'R')}
      </ComposedChart>
    </div>
  );
}

function SSLabel({ cy }: { cy: number }) {
  return (
    <text x={623} y={cy} transform={`rotate(90 623 ${cy})`} textAnchor="middle" fill={NAVY} fontFamily={FONT}>
      <tspan fontSize={22} fontWeight="bold">SS</tspan>
      <tspan fontSize={10} dy={4}>IRD free</tspan>
      <tspan fontSize={22} fontWeight="bold" dy={-4}> (μm)</tspan>
    </text>
  );
}

function LnLabel({ cy }: { cy: number }) {
  return (
    <text x={29} y={cy} transform={`rotate(-90 29 ${cy})`} textAnchor="middle" fill={RLAB} fontFamily={FONT} fontSize={20} fontWeight="bold">
      ln(Zr/Rb)
    </text>
  );
}

function Overlay() {
  const letter = { fontFamily: FONT, fontSize: 26, fontWeight: 'bold' as const, fill: '#000' };
  const site = { fontFamily: FONT, fontSize: 18.5, fontWeight: 'bold' as const, fill: '#0f1a7c', textAnchor: 'end' as const };
  return (
    <svg width={644} height={1025} style={{ position: 'absolute', left: 0, top: 0, pointerEvents: 'none' }}>
      <text x={327} y={25} textAnchor="middle" fontFamily={FONT} fontSize={20} fontWeight="bold" fill={TXT}>Depth (cm)</text>
      <text x={320} y={1018} textAnchor="middle" fontFamily={FONT} fontSize={20} fontWeight="bold" fill={TXT}>Depth (cm)</text>
      <text x={75} y={84} {...letter}>a</text>
      <text x={74} y={323} {...letter}>b</text>
      <text x={76} y={413} {...letter}>c</text>
      <text x={76} y={527} {...letter}>d</text>
      <text x={76} y={712} {...letter}>e</text>
      <text x={76} y={830} {...letter}>f</text>
      <text x={566} y={83} {...site}>MD03-2679</text>
      <text x={570} y={413} {...site}>MD03-</text>
      <text x={569} y={435} {...site}>2673</text>
      <rect x={459} y={694} width={111} height={26} fill="#fff" />
      <text x={566} y={714} {...site}>ANT30 P1-2</text>
      <LnLabel cy={131} />
      <LnLabel cy={478} />
      <LnLabel cy={773} />
      <SSLabel cy={238} />
      <SSLabel cy={566} />
      <SSLabel cy={866} />
    </svg>
  );
}

export default function App() {
  return (
    <div style={{ position: 'absolute', left: 0, top: 0, width: 644, height: 1025, background: '#fff', fontFamily: FONT }}>
      <PanelAB />
      <PanelCD />
      <PanelEF />
      <Overlay />
    </div>
  );
}
